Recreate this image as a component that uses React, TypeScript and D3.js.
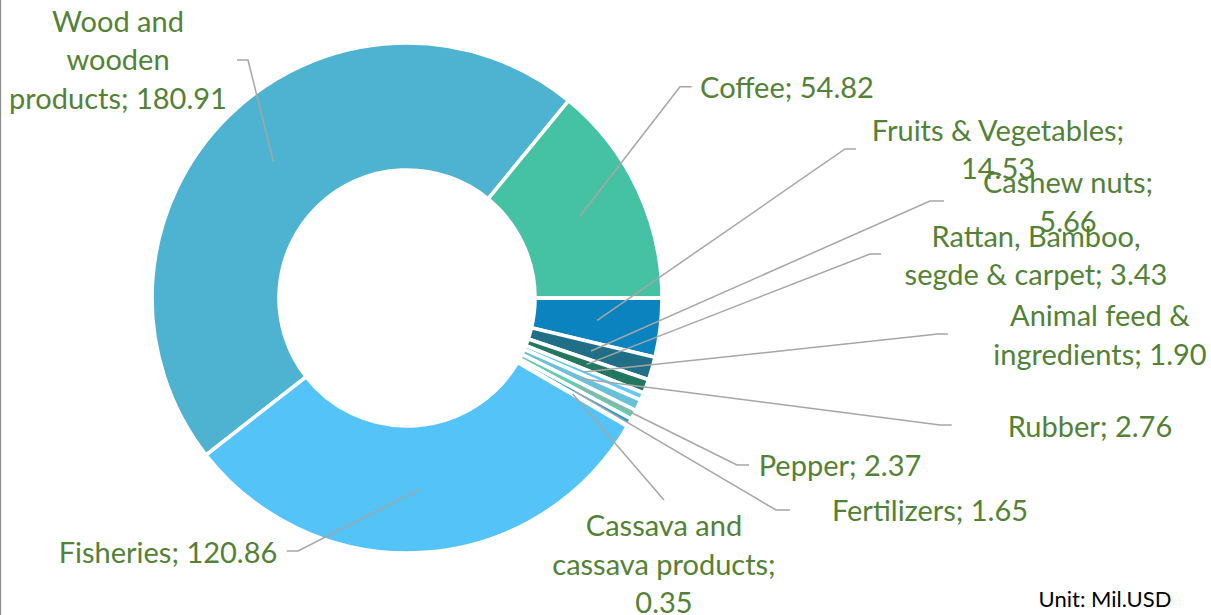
import { arc, pie, PieArcDatum } from 'd3'

// export values, Mil.USD, in clockwise order starting with the first slice
const categories = [
  'Wood and wooden products',
  'Coffee',
  'Fruits & Vegetables',
  'Cashew nuts',
  'Rattan, Bamboo, segde & carpet',
  'Animal feed & ingredients',
  'Rubber',
  'Pepper',
  'Fertilizers',
  'Cassava and cassava products',
  'Fisheries',
]
const values = [180.91, 54.82, 14.53, 5.66, 3.43, 1.9, 2.76, 2.37, 1.65, 0.35, 120.86]
const unitLabel = 'Unit: Mil.USD'

const colors = [
  '#4eb3d0',
  '#45c1a3',
  '#0b83bf',
  '#216f86',
  '#237660',
  '#66c9f3',
  '#6bc0d9',
  '#62cdb0',
  '#1e9be0',
  '#2f8fa6',
  '#53c3f8',
]

// label placement: words per line, text centre x, first baseline, leader bend + end
const labelLayout = [
  { words: [2, 1, 2], x: 118, y: 31.7, bend: [248, 60], end: [237, 60] },
  { words: [2], x: 787, y: 98, bend: [680, 86.7], end: [691.7, 86.7] },
  { words: [3, 1], x: 998, y: 140.7, bend: [845, 149], end: [856, 149] },
  { words: [2, 1], x: 1068, y: 193, bend: [930, 201], end: [944, 201] },
  { words: [2, 4], x: 1036, y: 246.7, bend: [870, 254], end: [881, 254] },
  { words: [3, 2], x: 1100, y: 326, bend: [938, 334], end: [948, 334] },
  { words: [2], x: 1090, y: 436.7, bend: [940, 425], end: [951.7, 425] },
  { words: [2], x: 840, y: 476, bend: [737, 465], end: [749, 465] },
  { words: [2], x: 930, y: 521, bend: [776, 510], end: [790, 510] },
  { words: [2, 2, 1], x: 664, y: 536, bend: [664, 500], end: [664, 500] },
  { words: [2], x: 168, y: 562.7, bend: [298, 551], end: [286.7, 551] },
]

const width = 1211
const height = 615
const cx = 407
const cy = 298
const inner = 128
const outer = 255
const lineHeight = 38.7
const font = "Lato, 'Open Sans', sans-serif"

interface Slice {
  name: string
  value: number
}

function splitLabel(text: string, counts: number[]) {
  const words = text.split(' ')
  const lines: string[] = []
  let i = 0
  counts.forEach(n => {
    lines.push(words.slice(i, i + n).join(' '))
    i += n
  })
  return lines
}

export default function App() {
  const data: Slice[] = categories.map((name, i) => ({ name, value: values[i] }))
  const start = (-128 * Math.PI) / 180
  const arcs = pie<Slice>()
    .value(d => d.value)
    .sort(null)
    .startAngle(start)
    .endAngle(start + Math.PI * 2)(data)
  const shape = arc<PieArcDatum<Slice>>().innerRadius(inner).outerRadius(outer)

  return (
    <svg
      width={width}
      height={height}
      style={{ position: 'absolute', left: 0, top: 0, background: '#fff' }}
    >
      <line x1={0.5} x2={0.5} y1={0} y2={height} stroke="#8c8c8c" strokeWidth={1.2} />
      <g transform={`translate(${cx},${cy})`}>
        {arcs.map((d, i) => (
          <path
            key={d.data.name}
            d={shape(d) ?? ''}
            fill={colors[i]}
            stroke="#fff"
            strokeWidth={3.6}
            strokeLinejoin="miter"
          />
        ))}
      </g>
      <g fill="none" stroke="#a6a6a6" strokeWidth={1.5}>
        {arcs.map((d, i) => {
          const [px, py] = shape.centroid(d)
          const l = labelLayout[i]
          return (
            <polyline
              key={d.data.name}
              points={`${cx + px},${cy + py} ${l.bend[0]},${l.bend[1]} ${l.end[0]},${l.end[1]}`}
            />
          )
        })}
      </g>
      <g fill="#538135" fontFamily={font} fontSize={29} textAnchor="middle">
        {arcs.map((d, i) => {
          const l = labelLayout[i]
          const lines = splitLabel(`${d.data.name}; ${d.data.value.toFixed(2)}`, l.words)
          return (
            <text key={d.data.name} x={l.x} y={l.y}>
              {lines.map((t, j) => (
                <tspan key={j} x={l.x} y={l.y + j * lineHeight}>
                  {t}
                </tspan>
              ))}
            </text>
          )
        })}
      </g>
      <text x={1105} y={607} fill="#000" fontFamily={font} fontSize={22} textAnchor="middle">
        {unitLabel}
      </text>
    </svg>
  )
}
